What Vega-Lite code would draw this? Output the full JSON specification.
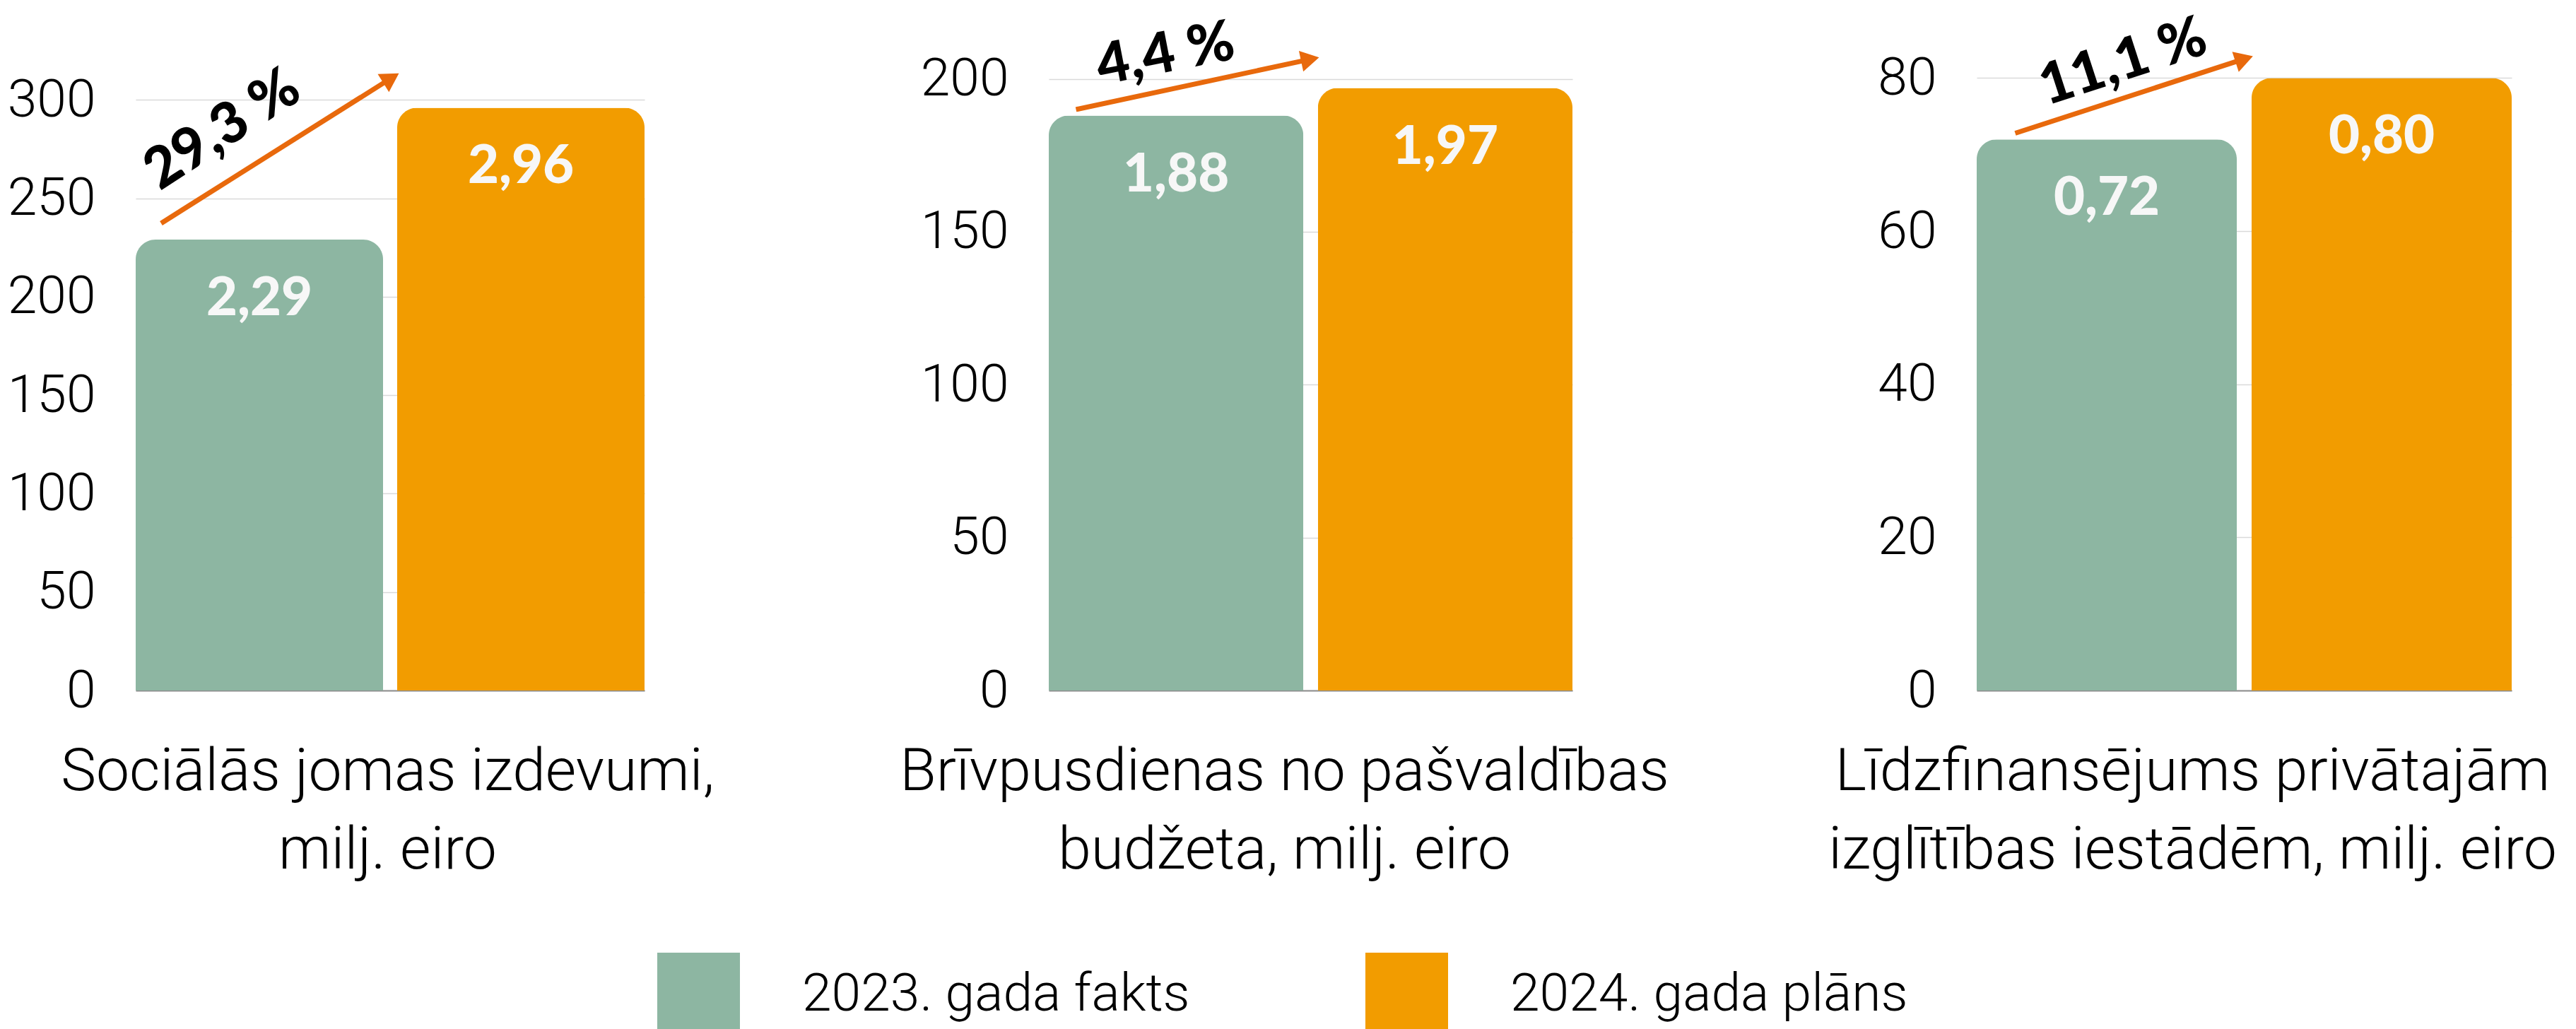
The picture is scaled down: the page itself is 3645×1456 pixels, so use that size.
{
  "$schema": "https://vega.github.io/schema/vega-lite/v6.json",
  "padding": {"left": 10, "top": 0, "right": 0, "bottom": 0},
  "background": "white",
  "datasets": {
    "bars": [
      {"panel": 1, "year": "2023. gada fakts", "value": 229, "label": "2,29"},
      {"panel": 1, "year": "2024. gada plāns", "value": 296, "label": "2,96"},
      {"panel": 2, "year": "2023. gada fakts", "value": 188, "label": "1,88"},
      {"panel": 2, "year": "2024. gada plāns", "value": 197, "label": "1,97"},
      {"panel": 3, "year": "2023. gada fakts", "value": 72, "label": "0,72"},
      {"panel": 3, "year": "2024. gada plāns", "value": 80, "label": "0,80"}
    ],
    "notes": [
      {"panel": 1, "ax1": 0.05, "ay1": 237.3, "ax2": 0.502, "ay2": 311, "lx": 0.171, "ly": 284.6, "pct": "29,3 %"},
      {"panel": 2, "ax1": 0.052, "ay1": 190, "ax2": 0.499, "ay2": 206.4, "lx": 0.223, "ly": 207.8, "pct": "4,4 %"},
      {"panel": 3, "ax1": 0.072, "ay1": 72.8, "ax2": 0.5, "ay2": 82.5, "lx": 0.274, "ly": 82.0, "pct": "11,1 %"}
    ]
  },
  "spacing": 572,
  "bounds": "flush",
  "hconcat": [
    {
      "width": 720,
      "height": 977,
      "layer": [
        {
          "layer": [
            {
              "data": {"name": "bars"},
              "transform": [{"filter": "datum.panel == 1"}],
              "mark": {"type": "bar", "cornerRadiusTopLeft": 28, "cornerRadiusTopRight": 28},
              "encoding": {
                "x": {"field": "year", "type": "nominal", "sort": null, "scale": {"paddingInner": 0.054, "paddingOuter": 0},
                  "axis": {"labels": false, "ticks": false, "domain": true, "domainColor": "#8c8c8c", "domainWidth": 2, "grid": false,
                    "title": ["Sociālās jomas izdevumi,", "milj. eiro"], "titleFont": "Roboto Light", "titleFontWeight": 300, "titleFontSize": 84,
                    "titleColor": "#000000", "titleLineHeight": 111, "titleAlign": "center", "titleBaseline": "alphabetic", "titleX": 356, "titleY": 140}},
                "y": {"field": "value", "type": "quantitative", "scale": {"domain": [0, 350.7], "nice": false},
                  "axis": {"values": [0, 50, 100, 150, 200, 250, 300], "grid": true, "gridColor": "#d9d9d9", "gridWidth": 1.5, "domain": false,
                    "ticks": false, "tickSize": 0, "labelPadding": 57, "labelFont": "Roboto Light", "labelFontWeight": 300, "labelFontSize": 75,
                    "labelColor": "#000000", "title": null}},
                "color": {"field": "year", "type": "nominal", "scale": {"domain": ["2023. gada fakts", "2024. gada plāns"], "range": ["#8DB6A2", "#F29C00"]},
                  "legend": {"orient": "none", "legendX": 738, "legendY": 1348, "direction": "horizontal", "title": null, "symbolType": "square",
                    "symbolSize": 13689, "symbolStrokeWidth": 0, "labelFont": "Roboto Light", "labelFontWeight": 300, "labelFontSize": 75,
                    "labelColor": "#000000", "labelOffset": 88, "labelLimit": 1000, "columnPadding": 248, "padding": 0}}
              }
            },
            {
              "data": {"name": "bars"},
              "transform": [{"filter": "datum.panel == 1"}],
              "mark": {"type": "text", "font": "Lato", "fontWeight": 900, "fontSize": 76, "color": "#F7F7F7", "baseline": "alphabetic", "dy": 107},
              "encoding": {
                "x": {"field": "year", "type": "nominal", "sort": null},
                "y": {"field": "value", "type": "quantitative"},
                "text": {"field": "label"}
              }
            }
          ]
        },
        {
          "data": {"name": "notes"},
          "transform": [{"filter": "datum.panel == 1"}],
          "layer": [
            {
              "mark": {"type": "rule", "color": "#E8690C", "strokeWidth": 7},
              "encoding": {
                "x": {"field": "ax1", "type": "quantitative", "scale": {"domain": [0, 1], "nice": false, "zero": false}, "axis": null},
                "x2": {"field": "ax2"},
                "y": {"field": "ay1", "type": "quantitative", "scale": {"domain": [0, 350.7], "nice": false}, "axis": null},
                "y2": {"field": "ay2"}
              }
            },
            {
              "mark": {"type": "point", "shape": "triangle-right", "size": 900, "filled": true, "color": "#E8690C", "opacity": 1, "angle": -32},
              "encoding": {
                "x": {"field": "ax2", "type": "quantitative", "scale": {"domain": [0, 1], "nice": false, "zero": false}, "axis": null},
                "y": {"field": "ay2", "type": "quantitative", "scale": {"domain": [0, 350.7], "nice": false}, "axis": null}
              }
            },
            {
              "mark": {"type": "text", "font": "Lato", "fontWeight": 900, "fontSize": 80, "color": "#000000", "align": "center", "baseline": "middle", "angle": -33},
              "encoding": {
                "x": {"field": "lx", "type": "quantitative", "scale": {"domain": [0, 1], "nice": false, "zero": false}, "axis": null},
                "y": {"field": "ly", "type": "quantitative", "scale": {"domain": [0, 350.7], "nice": false}, "axis": null},
                "text": {"field": "pct"}
              }
            }
          ]
        }
      ],
      "resolve": {"scale": {"x": "independent"}, "axis": {"y": "independent"}}
    },
    {
      "width": 741,
      "height": 977,
      "layer": [
        {
          "layer": [
            {
              "data": {"name": "bars"},
              "transform": [{"filter": "datum.panel == 2"}],
              "mark": {"type": "bar", "cornerRadiusTopLeft": 28, "cornerRadiusTopRight": 28},
              "encoding": {
                "x": {"field": "year", "type": "nominal", "sort": null, "scale": {"paddingInner": 0.054, "paddingOuter": 0},
                  "axis": {"labels": false, "ticks": false, "domain": true, "domainColor": "#8c8c8c", "domainWidth": 2, "grid": false,
                    "title": ["Brīvpusdienas no pašvaldības", "budžeta, milj. eiro"], "titleFont": "Roboto Light", "titleFontWeight": 300, "titleFontSize": 84,
                    "titleColor": "#000000", "titleLineHeight": 111, "titleAlign": "center", "titleBaseline": "alphabetic", "titleX": 333, "titleY": 140}},
                "y": {"field": "value", "type": "quantitative", "scale": {"domain": [0, 225.8], "nice": false},
                  "axis": {"values": [0, 50, 100, 150, 200], "grid": true, "gridColor": "#d9d9d9", "gridWidth": 1.5, "domain": false,
                    "ticks": false, "tickSize": 0, "labelPadding": 57, "labelFont": "Roboto Light", "labelFontWeight": 300, "labelFontSize": 75,
                    "labelColor": "#000000", "title": null}},
                "color": {"field": "year", "type": "nominal", "scale": {"domain": ["2023. gada fakts", "2024. gada plāns"], "range": ["#8DB6A2", "#F29C00"]},
                  "legend": {"orient": "none", "legendX": 738, "legendY": 1348, "direction": "horizontal", "title": null, "symbolType": "square",
                    "symbolSize": 13689, "symbolStrokeWidth": 0, "labelFont": "Roboto Light", "labelFontWeight": 300, "labelFontSize": 75,
                    "labelColor": "#000000", "labelOffset": 88, "labelLimit": 1000, "columnPadding": 248, "padding": 0}}
              }
            },
            {
              "data": {"name": "bars"},
              "transform": [{"filter": "datum.panel == 2"}],
              "mark": {"type": "text", "font": "Lato", "fontWeight": 900, "fontSize": 76, "color": "#F7F7F7", "baseline": "alphabetic", "dy": 107},
              "encoding": {
                "x": {"field": "year", "type": "nominal", "sort": null},
                "y": {"field": "value", "type": "quantitative"},
                "text": {"field": "label"}
              }
            }
          ]
        },
        {
          "data": {"name": "notes"},
          "transform": [{"filter": "datum.panel == 2"}],
          "layer": [
            {
              "mark": {"type": "rule", "color": "#E8690C", "strokeWidth": 7},
              "encoding": {
                "x": {"field": "ax1", "type": "quantitative", "scale": {"domain": [0, 1], "nice": false, "zero": false}, "axis": null},
                "x2": {"field": "ax2"},
                "y": {"field": "ay1", "type": "quantitative", "scale": {"domain": [0, 225.8], "nice": false}, "axis": null},
                "y2": {"field": "ay2"}
              }
            },
            {
              "mark": {"type": "point", "shape": "triangle-right", "size": 900, "filled": true, "color": "#E8690C", "opacity": 1, "angle": -12},
              "encoding": {
                "x": {"field": "ax2", "type": "quantitative", "scale": {"domain": [0, 1], "nice": false, "zero": false}, "axis": null},
                "y": {"field": "ay2", "type": "quantitative", "scale": {"domain": [0, 225.8], "nice": false}, "axis": null}
              }
            },
            {
              "mark": {"type": "text", "font": "Lato", "fontWeight": 900, "fontSize": 80, "color": "#000000", "align": "center", "baseline": "middle", "angle": -11},
              "encoding": {
                "x": {"field": "lx", "type": "quantitative", "scale": {"domain": [0, 1], "nice": false, "zero": false}, "axis": null},
                "y": {"field": "ly", "type": "quantitative", "scale": {"domain": [0, 225.8], "nice": false}, "axis": null},
                "text": {"field": "pct"}
              }
            }
          ]
        }
      ],
      "resolve": {"scale": {"x": "independent"}, "axis": {"y": "independent"}}
    },
    {
      "width": 757,
      "height": 977,
      "layer": [
        {
          "layer": [
            {
              "data": {"name": "bars"},
              "transform": [{"filter": "datum.panel == 3"}],
              "mark": {"type": "bar", "cornerRadiusTopLeft": 28, "cornerRadiusTopRight": 28},
              "encoding": {
                "x": {"field": "year", "type": "nominal", "sort": null, "scale": {"paddingInner": 0.054, "paddingOuter": 0},
                  "axis": {"labels": false, "ticks": false, "domain": true, "domainColor": "#8c8c8c", "domainWidth": 2, "grid": false,
                    "title": ["Līdzfinansējums privātajām", "izglītības iestādēm, milj. eiro"], "titleFont": "Roboto Light", "titleFontWeight": 300, "titleFontSize": 84,
                    "titleColor": "#000000", "titleLineHeight": 111, "titleAlign": "center", "titleBaseline": "alphabetic", "titleX": 305, "titleY": 140}},
                "y": {"field": "value", "type": "quantitative", "scale": {"domain": [0, 90.2], "nice": false},
                  "axis": {"values": [0, 20, 40, 60, 80], "grid": true, "gridColor": "#d9d9d9", "gridWidth": 1.5, "domain": false,
                    "ticks": false, "tickSize": 0, "labelPadding": 57, "labelFont": "Roboto Light", "labelFontWeight": 300, "labelFontSize": 75,
                    "labelColor": "#000000", "title": null}},
                "color": {"field": "year", "type": "nominal", "scale": {"domain": ["2023. gada fakts", "2024. gada plāns"], "range": ["#8DB6A2", "#F29C00"]},
                  "legend": {"orient": "none", "legendX": 738, "legendY": 1348, "direction": "horizontal", "title": null, "symbolType": "square",
                    "symbolSize": 13689, "symbolStrokeWidth": 0, "labelFont": "Roboto Light", "labelFontWeight": 300, "labelFontSize": 75,
                    "labelColor": "#000000", "labelOffset": 88, "labelLimit": 1000, "columnPadding": 248, "padding": 0}}
              }
            },
            {
              "data": {"name": "bars"},
              "transform": [{"filter": "datum.panel == 3"}],
              "mark": {"type": "text", "font": "Lato", "fontWeight": 900, "fontSize": 76, "color": "#F7F7F7", "baseline": "alphabetic", "dy": 107},
              "encoding": {
                "x": {"field": "year", "type": "nominal", "sort": null},
                "y": {"field": "value", "type": "quantitative"},
                "text": {"field": "label"}
              }
            }
          ]
        },
        {
          "data": {"name": "notes"},
          "transform": [{"filter": "datum.panel == 3"}],
          "layer": [
            {
              "mark": {"type": "rule", "color": "#E8690C", "strokeWidth": 7},
              "encoding": {
                "x": {"field": "ax1", "type": "quantitative", "scale": {"domain": [0, 1], "nice": false, "zero": false}, "axis": null},
                "x2": {"field": "ax2"},
                "y": {"field": "ay1", "type": "quantitative", "scale": {"domain": [0, 90.2], "nice": false}, "axis": null},
                "y2": {"field": "ay2"}
              }
            },
            {
              "mark": {"type": "point", "shape": "triangle-right", "size": 900, "filled": true, "color": "#E8690C", "opacity": 1, "angle": -18},
              "encoding": {
                "x": {"field": "ax2", "type": "quantitative", "scale": {"domain": [0, 1], "nice": false, "zero": false}, "axis": null},
                "y": {"field": "ay2", "type": "quantitative", "scale": {"domain": [0, 90.2], "nice": false}, "axis": null}
              }
            },
            {
              "mark": {"type": "text", "font": "Lato", "fontWeight": 900, "fontSize": 80, "color": "#000000", "align": "center", "baseline": "middle", "angle": -18},
              "encoding": {
                "x": {"field": "lx", "type": "quantitative", "scale": {"domain": [0, 1], "nice": false, "zero": false}, "axis": null},
                "y": {"field": "ly", "type": "quantitative", "scale": {"domain": [0, 90.2], "nice": false}, "axis": null},
                "text": {"field": "pct"}
              }
            }
          ]
        }
      ],
      "resolve": {"scale": {"x": "independent"}, "axis": {"y": "independent"}}
    }
  ],
  "config": {"view": {"stroke": null}, "font": "Roboto"}
}
